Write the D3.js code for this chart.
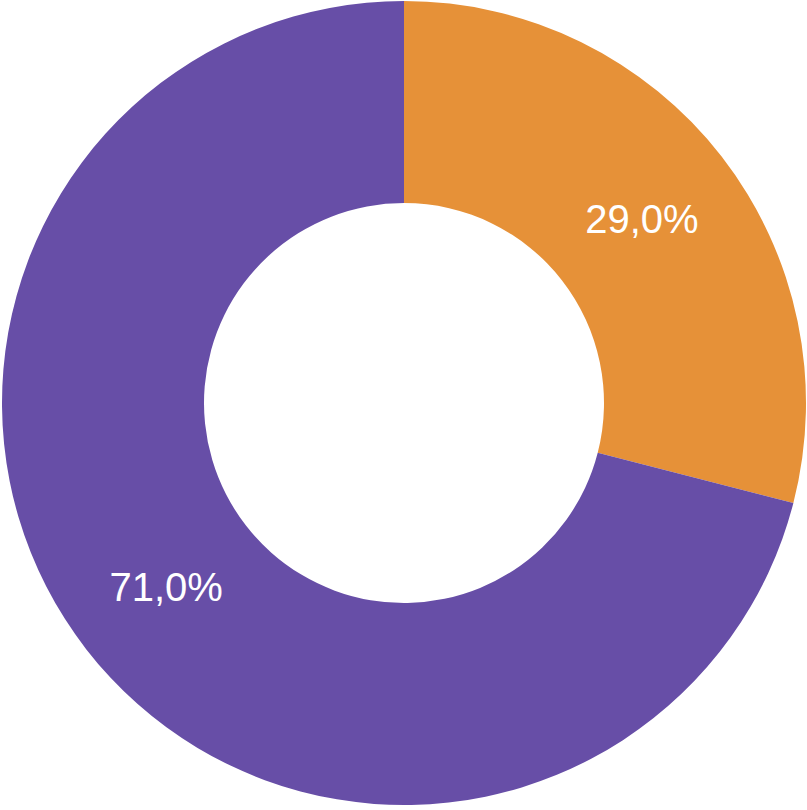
<!DOCTYPE html>
<html>
<head>
<meta charset="utf-8">
<script src="https://cdn.jsdelivr.net/npm/d3@7"></script>
<style>
  body { margin: 0; background: #fff; }
</style>
</head>
<body>
<div id="chart"></div>
<script>
var labels = ["29,0%", "71,0%"];
var values = [29.0, 71.0];
var colors = ["#e69138", "#674ea7"];

var width = 807,
    height = 810;

var cx = 404, cy = 403,
    outerR = 402, innerR = 200;

var svg = d3.select("#chart")
    .append("svg")
    .attr("width", width)
    .attr("height", height)
    .append("g")
    .attr("transform", "translate(" + cx + "," + cy + ")");

var pie = d3.pie().sort(null).value(function (d) { return d; });
var arc = d3.arc().innerRadius(innerR).outerRadius(outerR);

var slices = svg.selectAll(".slice")
    .data(pie(values))
    .enter().append("g")
    .attr("class", "slice");

slices.append("path")
    .attr("d", arc)
    .attr("fill", function (d, i) { return colors[i]; });

slices.append("text")
    .attr("transform", function (d) { return "translate(" + arc.centroid(d) + ")"; })
    .attr("text-anchor", "middle")
    .attr("dy", "0.35em")
    .attr("fill", "#fff")
    .style("font-family", "Arial, 'Liberation Sans', sans-serif")
    .style("font-size", "40px")
    .text(function (d, i) { return labels[i]; });
</script>
</body>
</html>
